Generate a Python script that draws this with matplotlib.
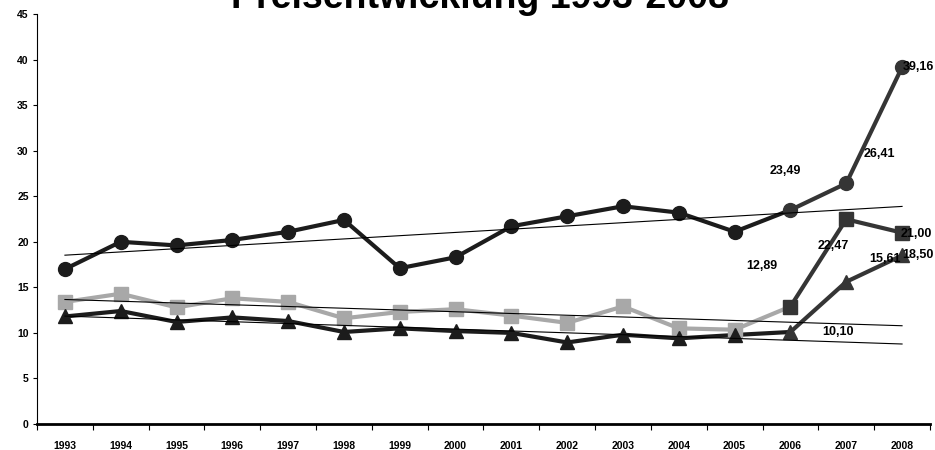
import matplotlib.pyplot as plt
import numpy as np

plt.rcParams['font.family'] = ['Liberation Sans', 'DejaVu Sans']
plt.rcParams['font.weight'] = 'bold'

# data
years = [str(y) for y in range(1993, 2009)]
circles = [17.0, 20.0, 19.6, 20.2, 21.1, 22.4, 17.1, 18.3, 21.7, 22.8, 23.9, 23.2, 21.1, 23.49, 26.41, 39.16]
squares = [13.4, 14.3, 12.8, 13.8, 13.4, 11.6, 12.3, 12.6, 11.9, 11.1, 12.9, 10.5, 10.35, 12.89, 22.47, 21.00]
triangles = [11.8, 12.4, 11.2, 11.7, 11.3, 10.1, 10.5, 10.2, 10.0, 8.95, 9.8, 9.4, 9.77, 10.10, 15.61, 18.50]

# labelled values and where the labels sit (category position, y value)
labels = ["23,49", "26,41", "39,16", "21,00", "22,47", "15,61", "18,50", "12,89", "10,10"]
label_x = [12.91, 14.6, 15.29, 15.25, 13.76, 14.69, 15.29, 12.49, 13.85]
label_y = [27.75, 29.6, 39.2, 20.9, 19.5, 18.06, 18.5, 17.3, 10.1]

x = np.arange(len(years))
split = 13  # from 2006 on the points are drawn in a different shade
DARK = '#1c1c1c'
LATE = '#353535'
GREY = '#a8a8a8'

fig = plt.figure(figsize=(9.35, 4.5), dpi=100)
ax = fig.add_axes([0.0396, 0.0578, 0.955, 0.911])

series = [
    (circles, 'o', 10, DARK),
    (squares, 's', 9.5, GREY),
    (triangles, '^', 9.5, DARK),
]

for vals, mk, ms, col in series:
    vals = np.array(vals)
    ax.plot(x[:split + 1], vals[:split + 1], color=col, lw=3, zorder=2, solid_capstyle='round')
    ax.plot(x[split:], vals[split:], color=LATE, lw=3, zorder=2, solid_capstyle='round')
    ax.plot(x[:split], vals[:split], ls='none', marker=mk, ms=ms, color=col, zorder=3)
    ax.plot(x[split:], vals[split:], ls='none', marker=mk, ms=ms, color=LATE, zorder=3)
    # linear trend fitted on 1993-2006, extended to 2008
    k, d = np.polyfit(x[:split + 1], vals[:split + 1], 1)
    ax.plot([x[0], x[-1]], [d, k * x[-1] + d], color='black', lw=0.8, zorder=4)

for t, lx, ly in zip(labels, label_x, label_y):
    ax.text(lx, ly, t, ha='center', va='center', fontsize=9, fontweight='bold', zorder=5)

ax.set_xlim(-0.5, 15.5)
ax.set_ylim(0, 45)
ax.set_yticks(np.arange(0, 46, 5))
ax.set_xticks(x)
ax.set_xticklabels(years)
ax.set_xticks(np.arange(-0.5, 16, 1), minor=True)
ax.tick_params(axis='x', which='major', length=0, pad=12, labelsize=7.5)
ax.tick_params(axis='x', which='minor', length=4, width=0.8, direction='out')
ax.tick_params(axis='y', length=3, width=0.8, labelsize=7.5, pad=3)

for s in ['top', 'right']:
    ax.spines[s].set_visible(False)
ax.spines['left'].set_linewidth(0.8)
ax.spines['bottom'].set_linewidth(2)

fig.text(0.513, 0.982, "Preisentwicklung 1993-2008", ha='center', va='baseline',
         fontsize=27, fontweight='bold')

fig.savefig("out.png", dpi=100)
